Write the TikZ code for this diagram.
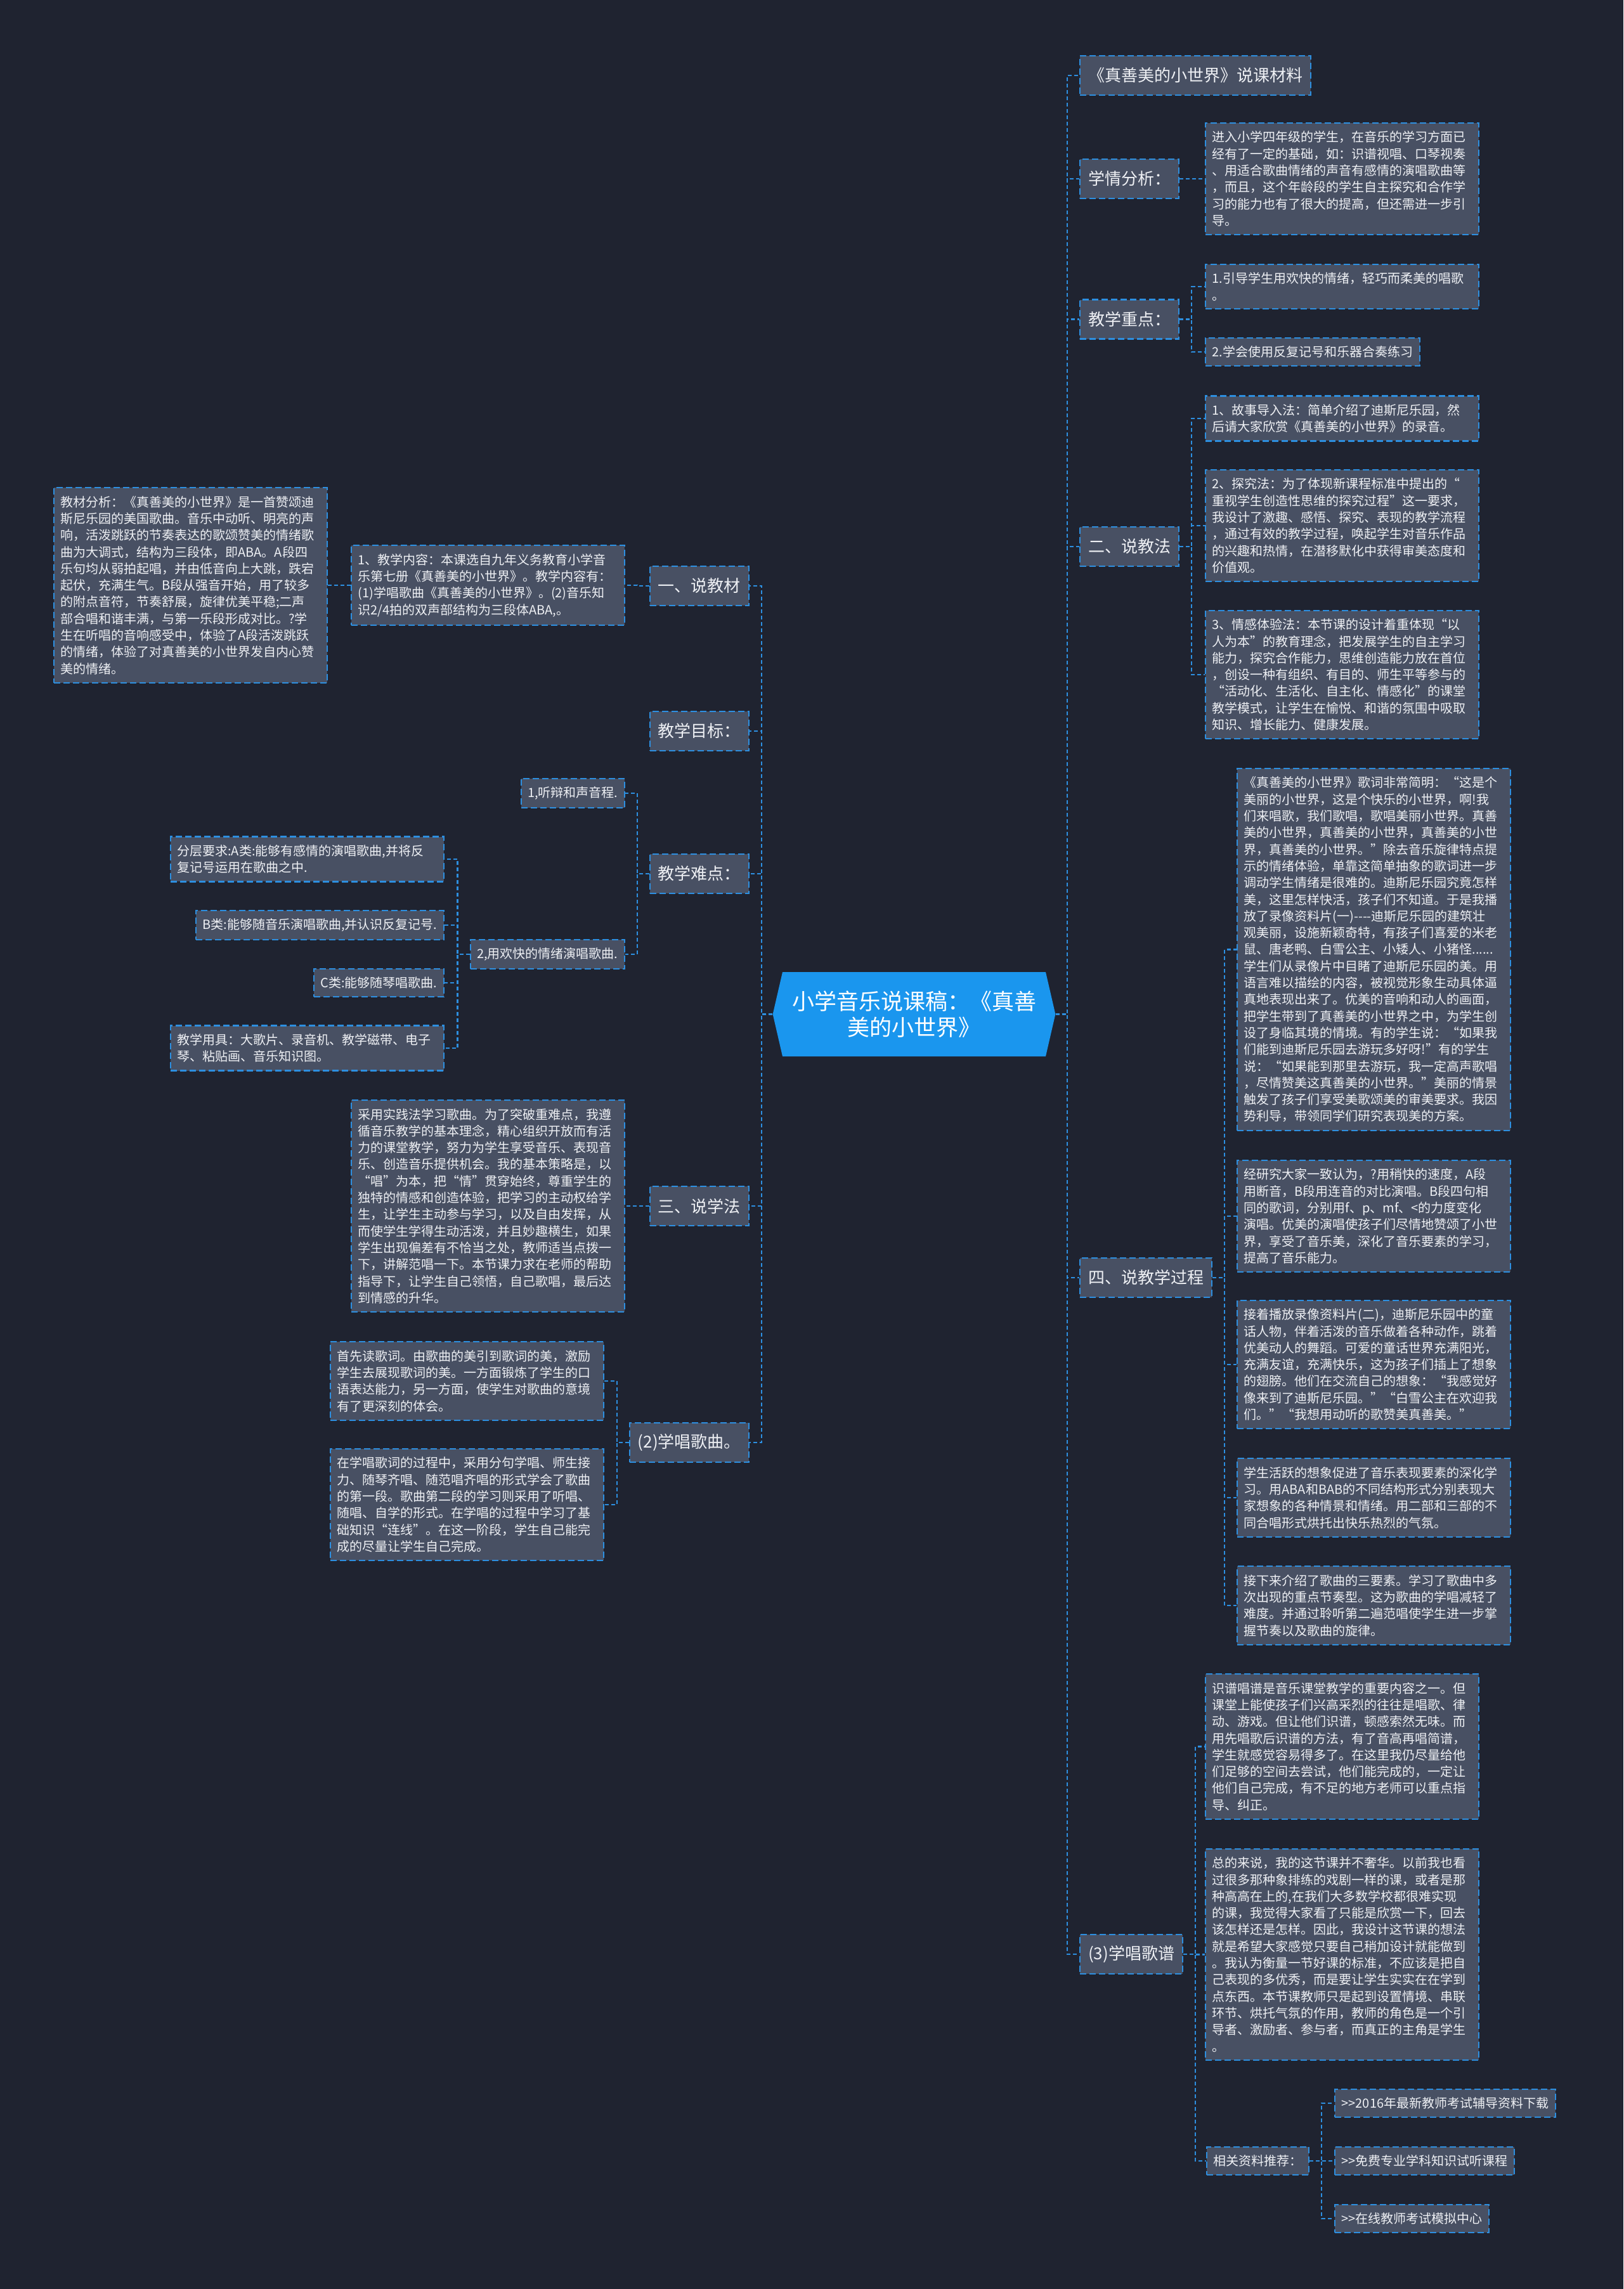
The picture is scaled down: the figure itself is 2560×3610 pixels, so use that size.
\documentclass[tikz,border=0pt]{standalone}
\usepackage{fontspec}
\setmainfont{Noto Sans CJK SC}
\usepackage{xcolor}
\usepackage{tikz}
\usetikzlibrary{shapes.symbols}

\definecolor{bgcol}{HTML}{1F2330}
\definecolor{boxfill}{HTML}{485063}
\definecolor{edgecol}{HTML}{2D8FE0}
\definecolor{rootfill}{HTML}{1A96EE}
\definecolor{textcol}{HTML}{EEF0F4}

\begin{document}
\begin{tikzpicture}[x=1pt, y=-1pt,
    topic/.style={
        rectangle, draw=edgecol, fill=boxfill,
        line width=2.2pt, dash pattern=on 10pt off 5pt,
        inner xsep=13pt, inner ysep=4pt, minimum height=62pt,
        font=\fontsize{26}{32}\selectfont, text=textcol
    },
    leaf/.style={
        rectangle, draw=edgecol, fill=boxfill,
        line width=2.2pt, dash pattern=on 10pt off 5pt,
        inner xsep=10.5pt, inner ysep=13pt,
        font=\fontsize{20}{26.3}\selectfont, text=textcol, align=left
    },
    para/.style={leaf, text width=410pt},
    link/.style={draw=edgecol, line width=2.2pt, dash pattern=on 6pt off 4pt},
    root/.style={
        shape=signal, signal to=east and west, signal pointer angle=154,
        fill=rootfill, text=white, align=center,
        minimum height=133pt, inner xsep=15pt,
        font=\fontsize{35}{41.7}\selectfont
    },
]
\useasboundingbox (0,0) rectangle (2560,3610);
\fill[bgcol] (0,0) rectangle (2560,3610);

% Centro
\node[root] (root) at (1441.5,1599.5) {小学音乐说课稿：《真善\\美的小世界》};
\coordinate (rsp) at (1683,1599.5);
\coordinate (lsp) at (1201,1599.5);

%% Lato destro
\node[topic, anchor=west] (cl) at (1702,119) {《真善美的小世界》说课材料};

\node[topic, anchor=west] (xq) at (1702,282) {学情分析：};
\node[para, anchor=west] (xq1) at (1900,282)
    {进入小学四年级的学生，在音乐的学习方面已\\
     经有了一定的基础，如：识谱视唱、口琴视奏\\
     、用适合歌曲情绪的声音有感情的演唱歌曲等\\
     ，而且，这个年龄段的学生自主探究和合作学\\
     习的能力也有了很大的提高，但还需进一步引\\
     导。};

\node[topic, anchor=west] (zd) at (1702,503.5) {教学重点：};
\node[para, anchor=west] (zd1) at (1900,452)
    {1.引导学生用欢快的情绪，轻巧而柔美的唱歌\\。};
\node[leaf, anchor=west] (zd2) at (1900,555) {2.学会使用反复记号和乐器合奏练习};

\node[topic, anchor=west] (jf) at (1702,862) {二、说教法};
\node[para, anchor=west] (jf1) at (1900,660)
    {1、故事导入法：简单介绍了迪斯尼乐园，然\\
     后请大家欣赏《真善美的小世界》的录音。};
\node[para, anchor=west] (jf2) at (1900,829)
    {2、探究法：为了体现新课程标准中提出的“\\
     重视学生创造性思维的探究过程”这一要求，\\
     我设计了激趣、感悟、探究、表现的教学流程\\
     ，通过有效的教学过程，唤起学生对音乐作品\\
     的兴趣和热情，在潜移默化中获得审美态度和\\
     价值观。};
\node[para, anchor=west] (jf3) at (1900,1064)
    {3、情感体验法：本节课的设计着重体现“以\\
     人为本”的教育理念，把发展学生的自主学习\\
     能力，探究合作能力，思维创造能力放在首位\\
     ，创设一种有组织、有目的、师生平等参与的\\
     “活动化、生活化、自主化、情感化”的课堂\\
     教学模式，让学生在愉悦、和谐的氛围中吸取\\
     知识、增长能力、健康发展。};

\node[topic, anchor=west] (gc) at (1702,2015) {四、说教学过程};
\node[para, anchor=west] (gc1) at (1950,1497.5)
    {《真善美的小世界》歌词非常简明：“这是个\\
     美丽的小世界，这是个快乐的小世界，啊!我\\
     们来唱歌，我们歌唱，歌唱美丽小世界。真善\\
     美的小世界，真善美的小世界，真善美的小世\\
     界，真善美的小世界。”除去音乐旋律特点提\\
     示的情绪体验，单靠这简单抽象的歌词进一步\\
     调动学生情绪是很难的。迪斯尼乐园究竟怎样\\
     美，这里怎样快活，孩子们不知道。于是我播\\
     放了录像资料片(一)-{}-{}-{}-迪斯尼乐园的建筑壮\\
     观美丽，设施新颖奇特，有孩子们喜爱的米老\\
     鼠、唐老鸭、白雪公主、小矮人、小猪怪......\\
     学生们从录像片中目睹了迪斯尼乐园的美。用\\
     语言难以描绘的内容，被视觉形象生动具体逼\\
     真地表现出来了。优美的音响和动人的画面，\\
     把学生带到了真善美的小世界之中，为学生创\\
     设了身临其境的情境。有的学生说：“如果我\\
     们能到迪斯尼乐园去游玩多好呀!”有的学生\\
     说：“如果能到那里去游玩，我一定高声歌唱\\
     ，尽情赞美这真善美的小世界。”美丽的情景\\
     触发了孩子们享受美歌颂美的审美要求。我因\\
     势利导，带领同学们研究表现美的方案。};
\node[para, anchor=west] (gc2) at (1950,1918)
    {经研究大家一致认为，?用稍快的速度，A段\\
     用断音，B段用连音的对比演唱。B段四句相\\
     同的歌词，分别用f、p、mf、<的力度变化\\
     演唱。优美的演唱使孩子们尽情地赞颂了小世\\
     界，享受了音乐美，深化了音乐要素的学习，\\
     提高了音乐能力。};
\node[para, anchor=west] (gc3) at (1950,2152)
    {接着播放录像资料片(二)，迪斯尼乐园中的童\\
     话人物，伴着活泼的音乐做着各种动作，跳着\\
     优美动人的舞蹈。可爱的童话世界充满阳光，\\
     充满友谊，充满快乐，这为孩子们插上了想象\\
     的翅膀。他们在交流自己的想象：“我感觉好\\
     像来到了迪斯尼乐园。”“白雪公主在欢迎我\\
     们。”“我想用动听的歌赞美真善美。”};
\node[para, anchor=west] (gc4) at (1950,2362)
    {学生活跃的想象促进了音乐表现要素的深化学\\
     习。用ABA和BAB的不同结构形式分别表现大\\
     家想象的各种情景和情绪。用二部和三部的不\\
     同合唱形式烘托出快乐热烈的气氛。};
\node[para, anchor=west] (gc5) at (1950,2532)
    {接下来介绍了歌曲的三要素。学习了歌曲中多\\
     次出现的重点节奏型。这为歌曲的学唱减轻了\\
     难度。并通过聆听第二遍范唱使学生进一步掌\\
     握节奏以及歌曲的旋律。};

\node[topic, anchor=west] (gp) at (1702,3082) {(3)学唱歌谱};
\node[para, anchor=west] (gp1) at (1900,2754.5)
    {识谱唱谱是音乐课堂教学的重要内容之一。但\\
     课堂上能使孩子们兴高采烈的往往是唱歌、律\\
     动、游戏。但让他们识谱，顿感索然无味。而\\
     用先唱歌后识谱的方法，有了音高再唱简谱，\\
     学生就感觉容易得多了。在这里我仍尽量给他\\
     们足够的空间去尝试，他们能完成的，一定让\\
     他们自己完成，有不足的地方老师可以重点指\\
     导、纠正。};
\node[para, anchor=west] (gp2) at (1900,3082.5)
    {总的来说，我的这节课并不奢华。以前我也看\\
     过很多那种象排练的戏剧一样的课，或者是那\\
     种高高在上的,在我们大多数学校都很难实现\\
     的课，我觉得大家看了只能是欣赏一下，回去\\
     该怎样还是怎样。因此，我设计这节课的想法\\
     就是希望大家感觉只要自己稍加设计就能做到\\
     。我认为衡量一节好课的标准，不应该是把自\\
     己表现的多优秀，而是要让学生实实在在学到\\
     点东西。本节课教师只是起到设置情境、串联\\
     环节、烘托气氛的作用，教师的角色是一个引\\
     导者、激励者、参与者，而真正的主角是学生\\
     。};
\node[leaf, anchor=west] (gp3) at (1902,3408) {相关资料推荐：};
\node[leaf, anchor=west] (gp31) at (2104,3317) {>{}>2016年最新教师考试辅导资料下载};
\node[leaf, anchor=west] (gp32) at (2104,3408) {>{}>免费专业学科知识试听课程};
\node[leaf, anchor=west] (gp33) at (2104,3499) {>{}>在线教师考试模拟中心};

%% Lato sinistro
\node[topic, anchor=east] (jc) at (1182,924) {一、说教材};
\node[para, anchor=east] (jc1) at (986,923)
    {1、教学内容：本课选自九年义务教育小学音\\
     乐第七册《真善美的小世界》。教学内容有：\\
     (1)学唱歌曲《真善美的小世界》。(2)音乐知\\
     识2/4拍的双声部结构为三段体ABA,。};
\node[para, anchor=east] (jc11) at (517,923)
    {教材分析：《真善美的小世界》是一首赞颂迪\\
     斯尼乐园的美国歌曲。音乐中动听、明亮的声\\
     响，活泼跳跃的节奏表达的歌颂赞美的情绪歌\\
     曲为大调式，结构为三段体，即ABA。A段四\\
     乐句均从弱拍起唱，并由低音向上大跳，跌宕\\
     起伏，充满生气。B段从强音开始，用了较多\\
     的附点音符，节奏舒展，旋律优美平稳;二声\\
     部合唱和谐丰满，与第一乐段形成对比。?学\\
     生在听唱的音响感受中，体验了A段活泼跳跃\\
     的情绪，体验了对真善美的小世界发自内心赞\\
     美的情绪。};

\node[topic, anchor=east] (mb) at (1182,1153) {教学目标：};

\node[topic, anchor=east] (nd) at (1182,1378) {教学难点：};
\node[leaf, anchor=east] (nd1) at (986,1251) {1,听辩和声音程.};
\node[leaf, anchor=east] (nd2) at (986,1505) {2,用欢快的情绪演唱歌曲.};
\node[para, anchor=east] (nd21) at (701,1355)
    {分层要求:A类:能够有感情的演唱歌曲,并将反\\复记号运用在歌曲之中.};
\node[leaf, anchor=east] (nd22) at (701,1459) {B类:能够随音乐演唱歌曲,并认识反复记号.};
\node[leaf, anchor=east] (nd23) at (701,1550) {C类:能够随琴唱歌曲.};
\node[para, anchor=east] (nd24) at (701,1653)
    {教学用具：大歌片、录音机、教学磁带、电子\\琴、粘贴画、音乐知识图。};

\node[topic, anchor=east] (xf) at (1182,1902) {三、说学法};
\node[para, anchor=east] (xf1) at (986,1902)
    {采用实践法学习歌曲。为了突破重难点，我遵\\
     循音乐教学的基本理念，精心组织开放而有活\\
     力的课堂教学，努力为学生享受音乐、表现音\\
     乐、创造音乐提供机会。我的基本策略是，以\\
     “唱”为本，把“情”贯穿始终，尊重学生的\\
     独特的情感和创造体验，把学习的主动权给学\\
     生，让学生主动参与学习，以及自由发挥，从\\
     而使学生学得生动活泼，并且妙趣横生，如果\\
     学生出现偏差有不恰当之处，教师适当点拨一\\
     下，讲解范唱一下。本节课力求在老师的帮助\\
     指导下，让学生自己领悟，自己歌唱，最后达\\
     到情感的升华。};

\node[topic, anchor=east] (cg) at (1182,2275) {(2)学唱歌曲。};
\node[para, anchor=east] (cg1) at (953,2178)
    {首先读歌词。由歌曲的美引到歌词的美，激励\\
     学生去展现歌词的美。一方面锻炼了学生的口\\
     语表达能力，另一方面，使学生对歌曲的意境\\
     有了更深刻的体会。};
\node[para, anchor=east] (cg2) at (953,2373)
    {在学唱歌词的过程中，采用分句学唱、师生接\\
     力、随琴齐唱、随范唱齐唱的形式学会了歌曲\\
     的第一段。歌曲第二段的学习则采用了听唱、\\
     随唱、自学的形式。在学唱的过程中学习了基\\
     础知识“连线”。在这一阶段，学生自己能完\\
     成的尽量让学生自己完成。};

%% Collegamenti
\foreach \n in {cl,xq,zd,jf,gc,gp}
    \draw[link] (root.east) -- (rsp) |- (\n.west);
\foreach \n in {jc,mb,nd,xf,cg}
    \draw[link] (root.west) -- (lsp) |- (\n.east);

\draw[link] (xq.east) -- ++(19,0) |- (xq1.west);
\foreach \n in {zd1,zd2}
    \draw[link] (zd.east) -- ++(19,0) |- (\n.west);
\foreach \n in {jf1,jf2,jf3}
    \draw[link] (jf.east) -- ++(19,0) |- (\n.west);
\foreach \n in {gc1,gc2,gc3,gc4,gc5}
    \draw[link] (gc.east) -- ++(19,0) |- (\n.west);
\foreach \n in {gp1,gp2,gp3}
    \draw[link] (gp.east) -- ++(19,0) |- (\n.west);
\foreach \n in {gp31,gp32,gp33}
    \draw[link] (gp3.east) -- ++(19,0) |- (\n.west);

\draw[link] (jc.west) -- ++(-19,0) |- (jc1.east);
\draw[link] (jc1.west) -- ++(-19,0) |- (jc11.east);
\foreach \n in {nd1,nd2}
    \draw[link] (nd.west) -- ++(-19,0) |- (\n.east);
\foreach \n in {nd21,nd22,nd23,nd24}
    \draw[link] (nd2.west) -- ++(-19,0) |- (\n.east);
\draw[link] (xf.west) -- ++(-19,0) |- (xf1.east);
\foreach \n in {cg1,cg2}
    \draw[link] (cg.west) -- ++(-19,0) |- (\n.east);

\end{tikzpicture}
\end{document}
